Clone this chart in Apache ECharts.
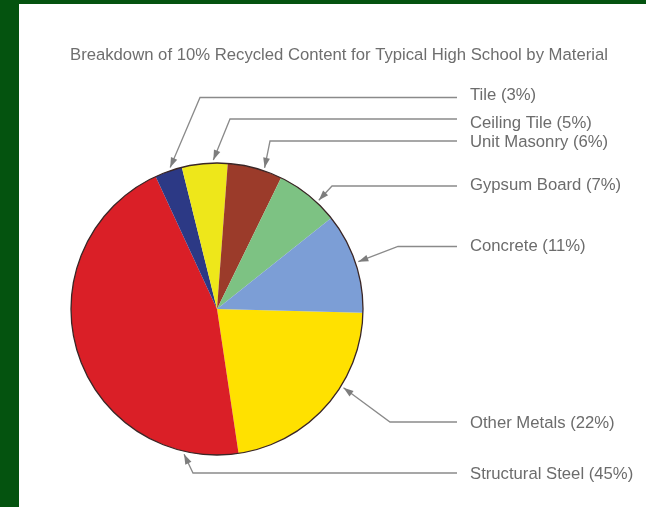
<!DOCTYPE html>
<html>
<head>
<meta charset="utf-8">
<title>Recycled Content by Material</title>
<script src="https://cdn.jsdelivr.net/npm/echarts@6/dist/echarts.min.js"></script>
<style>
  html, body { margin: 0; padding: 0; background: #04530f; }
  #chart { width: 646px; height: 507px; }
</style>
</head>
<body>
<div id="chart"></div>
<script>
// Materials, clockwise from three o'clock
const materials = ['Other Metals', 'Structural Steel', 'Tile', 'Ceiling Tile', 'Unit Masonry', 'Gypsum Board', 'Concrete'];
const shares = [22, 45, 3, 5, 6, 7, 11];
const sliceColors = ['#ffe100', '#da1f27', '#2c3985', '#eee71a', '#9b3b2a', '#7dc283', '#7c9ed6'];

// Callout layout: where each pointer meets its slice (fraction along the arc),
// x of the elbow, y of the leader row and y of the label text
const pointerAt = [0.38, 0.13, 0.60, 0.69, 0.66, 0.67, 0.50];
const elbowX = [390, 193, 200, 230, 270, 332, 398];
const leaderY = [422, 473, 97.5, 119, 141, 186, 246.5];
const labelY = [423, 474, 95.5, 123, 142, 185, 246.5];
const LEADER_END_X = 457;
const LABEL_X = 470;
const LEADER_COLOR = '#8a8a8a';
const TEXT_COLOR = '#6c6c6c';
const FONT = '"Liberation Sans", Arial, Helvetica, sans-serif';
const FONT_SIZE = 16.7;

const chart = echarts.init(document.getElementById('chart'), null, { renderer: 'canvas' });

// Leader geometry for slice i, taken from the pie's own layout
function leader(i) {
  const lay = chart.getModel().getSeriesByIndex(0).getData().getItemLayout(i);
  const a = lay.startAngle + (lay.endAngle - lay.startAngle) * pointerAt[i];
  const rr = lay.r + 3;
  return {
    tip: [lay.cx + rr * Math.cos(a), lay.cy + rr * Math.sin(a)],
    elbow: [elbowX[i], leaderY[i]],
    end: [LEADER_END_X, leaderY[i]]
  };
}

const pieData = materials.map((name, i) => ({
  name: name,
  value: shares[i],
  itemStyle: { color: sliceColors[i] }
}));

const option = {
  backgroundColor: '#04530f',
  animation: false,
  title: {
    text: 'Breakdown of 10% Recycled Content for Typical High School by Material',
    left: 70,
    top: 47,
    padding: 0,
    textStyle: { color: '#6e6e6e', fontSize: FONT_SIZE, fontWeight: 'normal', fontFamily: FONT }
  },
  graphic: [{
    type: 'rect',
    z: -10,
    silent: true,
    shape: { x: 19, y: 4, width: 627, height: 503 },
    style: { fill: '#ffffff' }
  }],
  series: [
    {
      type: 'pie',
      center: [217, 309],
      radius: 146,
      startAngle: -1.5,
      clockwise: true,
      avoidLabelOverlap: false,
      silent: true,
      data: pieData,
      itemStyle: { borderWidth: 0 },
      label: {
        show: true,
        position: 'outside',
        formatter: '{b} ({c}%)',
        color: TEXT_COLOR,
        fontSize: FONT_SIZE,
        fontFamily: FONT
      },
      labelLine: {
        show: true,
        smooth: false,
        lineStyle: { color: LEADER_COLOR, width: 1.3 }
      },
      labelLayout: function (p) {
        const i = p.dataIndex;
        const g = leader(i);
        return {
          x: LABEL_X,
          y: labelY[i],
          align: 'left',
          verticalAlign: 'middle',
          labelLinePoints: [g.tip, g.elbow, g.end]
        };
      }
    },
    {
      // thin dark rim around the whole pie
      type: 'pie',
      center: [217, 309],
      radius: 146,
      silent: true,
      z: 3,
      label: { show: false },
      labelLine: { show: false },
      data: [{ value: 1, itemStyle: { color: 'rgba(0,0,0,0)', borderColor: '#3a2626', borderWidth: 1.3 } }]
    }
  ]
};

chart.setOption(option);

// Filled arrowheads at the slice end of every leader
function arrowheads() {
  return materials.map((m, i) => {
    const g = leader(i);
    const dx = g.elbow[0] - g.tip[0], dy = g.elbow[1] - g.tip[1];
    const len = Math.hypot(dx, dy);
    const ux = dx / len, uy = dy / len;
    const nx = -uy, ny = ux;
    const L = 10, W = 3.4;
    return {
      type: 'polygon',
      z: 20,
      silent: true,
      shape: {
        points: [
          g.tip,
          [g.tip[0] + ux * L + nx * W, g.tip[1] + uy * L + ny * W],
          [g.tip[0] + ux * L - nx * W, g.tip[1] + uy * L - ny * W]
        ]
      },
      style: { fill: '#7d7d7d' }
    };
  });
}

chart.setOption({ graphic: option.graphic.concat(arrowheads()) });
</script>
</body>
</html>
